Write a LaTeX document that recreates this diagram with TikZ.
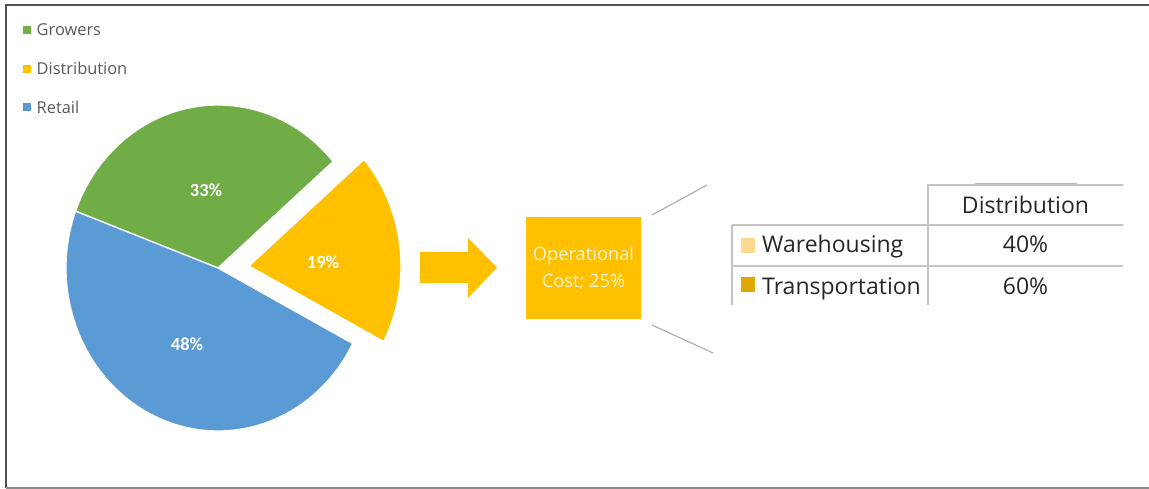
\documentclass[tikz,border=0pt]{standalone}
\usepackage{fontspec}
\setmainfont{Open Sans}
\newfontfamily\calib{Carlito}
\definecolor{pgreen}{HTML}{70AD47}
\definecolor{pyellow}{HTML}{FFC000}
\definecolor{pblue}{HTML}{5B9BD5}
\definecolor{legendgray}{HTML}{595959}
\definecolor{tabtext}{HTML}{262626}
\definecolor{tabline}{HTML}{C4C4C4}
\definecolor{cream}{HTML}{FFF4D6}
\definecolor{whmark}{HTML}{FFD98E}
\definecolor{trmark}{HTML}{DFA800}
\definecolor{goldline}{HTML}{D6B66C}
\definecolor{framedark}{HTML}{505050}
\definecolor{framelight}{HTML}{8A8A8A}
\begin{document}
\begin{tikzpicture}[x=1pt,y=1pt,
  legmark/.style={minimum size=8pt, inner sep=0pt, draw=none},
  legtext/.style={anchor=base west, inner sep=0pt, text=legendgray, font=\fontsize{16.4}{19}\selectfont},
  pielabel/.style={inner sep=0pt, text=white, font=\calib\bfseries\fontsize{18.5}{21}\selectfont},
  slice/.style={draw=white, line width=1.3pt, line join=round},
  opbox/.style={fill=pyellow, minimum width=115pt, minimum height=102pt, inner sep=0pt, text=cream, align=center, font=\fontsize{18.3}{27}\selectfont},
  callout/.style={draw=tabline!90!black, line width=1.2pt},
  grid/.style={draw=tabline, line width=1.3pt},
  tabc/.style={anchor=base, inner sep=0pt, text=tabtext, font=\fontsize{23}{27}\selectfont},
  tabl/.style={anchor=base west, inner sep=0pt, text=tabtext, font=\fontsize{23}{27}\selectfont},
  tabmark/.style={minimum width=14pt, minimum height=15pt, inner sep=0pt, draw=none}
]
\useasboundingbox (0,0) rectangle (1149,-489);
% frame
\draw[framedark, line width=2pt] (5.5,-488) -- (5.5,-5) -- (1149,-5);
\draw[framelight, line width=1.5pt] (5.5,-488) -- (1149,-488);

% legend
\node[legmark, fill=pgreen] (mg) at (26.7,-30.5) {};
\node[legtext] (tg) at (36.5,-36) {Growers};
\node[legmark, fill=pyellow] (md) at (26.7,-68.8) {};
\node[legtext] (td) at (36.5,-75) {Distribution};
\node[legmark, fill=pblue] (mr) at (26.7,-107.2) {};
\node[legtext] (tr) at (36.5,-113.3) {Retail};

% pie
\coordinate (c) at (218,-268);
\coordinate (cy) at (249,-266);
\path[slice, fill=pgreen] (c) -- ++(40.8:152pt and 163pt)
  arc[start angle=40.8, end angle=159.6, x radius=152pt, y radius=163pt] -- cycle;
\path[slice, fill=pblue] (c) -- ++(159.6:152pt and 163pt)
  arc[start angle=159.6, end angle=332.4, x radius=152pt, y radius=163pt] -- cycle;
\path[slice, fill=pyellow] (cy) -- ++(-27.6:152pt and 163pt)
  arc[start angle=-27.6, end angle=40.8, x radius=152pt, y radius=163pt] -- cycle;
\node[pielabel] (p33) at (206,-190) {33\%};
\node[pielabel] (p19) at (323,-262) {19\%};
\node[pielabel] (p48) at (187,-344) {48\%};

% block arrow
\fill[pyellow] (420,-252) -- (468,-252) -- (468,-238) -- (497,-267.5)
  -- (468,-298) -- (468,-283) -- (420,-283) -- cycle;

% operational cost box
\node[opbox] (op) at (583.5,-268) {Operational\\Cost; 25\%};

% callout lines
\coordinate (ca1) at (652,-215);
\coordinate (cb1) at (707,-185);
\coordinate (ca2) at (652,-325);
\coordinate (cb2) at (713,-353);
\draw[callout] (ca1) -- (cb1);
\draw[callout] (ca2) -- (cb2);

% table grid
\coordinate (g1) at (928,-185);
\coordinate (g2) at (1123,-185);
\coordinate (g3) at (928,-305);
\coordinate (h1a) at (732,-225);
\coordinate (h1b) at (1123,-225);
\coordinate (h2a) at (732,-266);
\coordinate (h2b) at (1123,-266);
\coordinate (v0) at (732,-305);
\draw[grid] (g2) -- (g1) -- (g3);
\draw[grid] (h1a) -- (h1b);
\draw[grid] (h2a) -- (h2b);
\draw[grid] (h1a) -- (v0);
\draw[goldline, line width=1.2pt] (975,-183.8) -- (1077,-183.8);

% table contents
\node[tabc] (hd) at (1025.5,-213.3) {Distribution};
\node[tabmark, fill=whmark] (wm) at (748,-245.5) {};
\node[tabl] (wh) at (762,-252.7) {Warehousing};
\node[tabc] (w40) at (1025.5,-252.7) {40\%};
\node[tabmark, fill=trmark] (tm) at (748,-284.5) {};
\node[tabl] (tp) at (762,-294.3) {Transportation};
\node[tabc] (t60) at (1025.5,-294.3) {60\%};
\end{tikzpicture}
\end{document}
